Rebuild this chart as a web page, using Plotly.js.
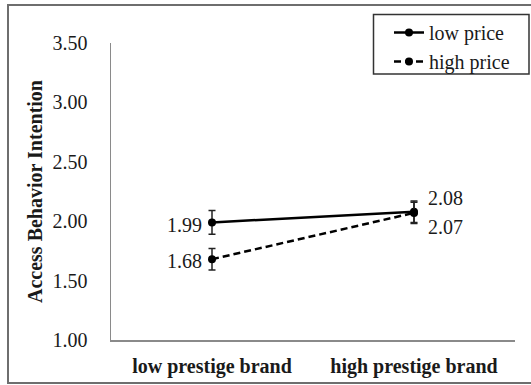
<!DOCTYPE html>
<html>
<head>
<meta charset="utf-8">
<script src="https://cdn.plot.ly/plotly-3.0.1.min.js"></script>
<style>
  html, body { margin: 0; padding: 0; background: #fff; }
  #chart { width: 531px; height: 385px; }
</style>
</head>
<body>
<div id="chart"></div>
<script>
// Brand prestige conditions on the x axis
const categories = ['low prestige brand', 'high prestige brand'];

// Mean access behavior intention per price condition
const lowPrice = [1.99, 2.08];
const highPrice = [1.68, 2.07];

// Standard errors for each mean
const lowPriceErr = [0.10, 0.09];
const highPriceErr = [0.09, 0.09];

const seriesNames = ['low price', 'high price'];
const yTicks = [1.0, 1.5, 2.0, 2.5, 3.0, 3.5];

const serif = '"Liberation Serif", serif';
const ink = '#1a1a1a';

// Plot-area geometry in pixels, used to place the decorative frames
const W = 531, H = 385;
const M = { l: 111, r: 16, t: 43, b: 45 };
const pw = W - M.l - M.r, ph = H - M.t - M.b;
const px = x => (x - M.l) / pw;
const py = y => (H - M.b - y) / ph;

const labelStyle = { family: serif, size: 20, color: ink };

const traces = [
  {
    x: categories, y: lowPrice, name: seriesNames[0],
    type: 'scatter', mode: 'lines+markers',
    line: { color: '#000', width: 2.5 },
    marker: { color: '#000', size: 8 },
    error_y: { type: 'data', array: lowPriceErr, visible: true, color: '#222', thickness: 1.5, width: 3.5 },
    cliponaxis: false
  },
  {
    x: categories, y: highPrice, name: seriesNames[1],
    type: 'scatter', mode: 'lines+markers',
    line: { color: '#000', width: 2.5, dash: '7px,4px' },
    marker: { color: '#000', size: 8 },
    error_y: { type: 'data', array: highPriceErr, visible: true, color: '#222', thickness: 1.5, width: 3.5 },
    cliponaxis: false
  }
];

// Value labels: left of the low-prestige points, right of the high-prestige ones
// (low price above, high price below so the two close values don't collide)
function valueLabel(cat, val, side, lift) {
  return {
    x: cat, y: val, xref: 'x', yref: 'y',
    text: val.toFixed(2), showarrow: false,
    font: labelStyle,
    xanchor: side < 0 ? 'right' : 'left',
    yanchor: 'middle',
    xshift: side < 0 ? -8 : 12,
    yshift: lift
  };
}
const annotations = [
  valueLabel(categories[0], lowPrice[0], -1, -3),
  valueLabel(categories[0], highPrice[0], -1, -2),
  valueLabel(categories[1], lowPrice[1], 1, 14),
  valueLabel(categories[1], highPrice[1], 1, -14)
];

const layout = {
  width: W, height: H,
  margin: M,
  paper_bgcolor: '#fff',
  plot_bgcolor: '#fff',
  font: { family: serif, size: 20, color: ink },
  showlegend: true,
  legend: {
    x: px(389), y: py(13), xanchor: 'left', yanchor: 'top',
    bgcolor: 'rgba(0,0,0,0)', borderwidth: 0,
    font: { family: serif, size: 20, color: ink },
    itemwidth: 30, tracegroupgap: 0
  },
  xaxis: {
    type: 'category',
    range: [-0.5, 1.5],
    showline: true, linecolor: '#8a8a8a', linewidth: 1.5,
    showgrid: false, zeroline: false, ticks: '',
    ticklabelstandoff: 7,
    tickfont: { family: serif, size: 20, color: ink, weight: 'bold' }
  },
  yaxis: {
    range: [1.0, 3.5],
    tickvals: yTicks,
    tickformat: '.2f',
    showline: true, linecolor: '#8a8a8a', linewidth: 1.5,
    showgrid: false, zeroline: false, ticks: '',
    ticklabelstandoff: 18,
    tickfont: { family: serif, size: 20, color: ink },
    title: {
      text: 'Access Behavior Intention',
      font: { family: serif, size: 20, color: ink, weight: 'bold' },
      standoff: 4
    }
  },
  annotations: annotations,
  shapes: [
    // outer chart frame
    {
      type: 'rect', xref: 'paper', yref: 'paper',
      x0: px(8), x1: px(533), y0: py(383), y1: py(5),
      line: { color: '#6e6e6e', width: 2 }, fillcolor: 'rgba(0,0,0,0)'
    },
    // legend box
    {
      type: 'rect', xref: 'paper', yref: 'paper',
      x0: px(373.5), x1: px(529), y0: py(74), y1: py(14.5),
      line: { color: '#333', width: 1.5 }, fillcolor: 'rgba(0,0,0,0)'
    }
  ]
};

Plotly.newPlot('chart', traces, layout, { displayModeBar: false, staticPlot: true });
</script>
</body>
</html>
